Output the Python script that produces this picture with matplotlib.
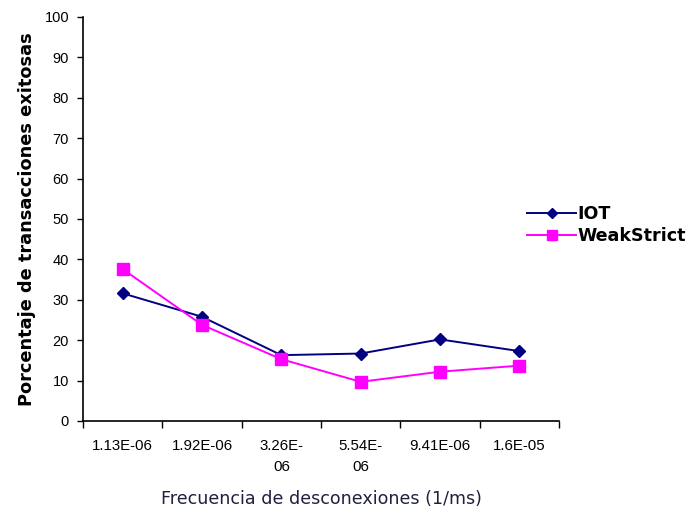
import matplotlib
matplotlib.use("Agg")
import matplotlib.pyplot as plt
import numpy as np

plt.rcParams['font.family'] = ['Liberation Sans', 'DejaVu Sans']

categories = ["1.13E-06", "1.92E-06", "3.26E-\n06", "5.54E-\n06", "9.41E-06", "1.6E-05"]
iot = [31.6, 25.8, 16.3, 16.7, 20.2, 17.3]
weak_strict = [37.6, 23.8, 15.3, 9.7, 12.2, 13.7]
y_ticks = list(range(0, 101, 10))

fig = plt.figure(figsize=(6.91, 5.13), dpi=100)
ax = fig.add_axes([83 / 691, (513 - 421) / 513, (559 - 83) / 691, (421 - 17) / 513])

x = np.arange(len(categories))
ax.plot(x, iot, color="#000080", marker="D", markersize=6.5, linewidth=1.4, label="IOT")
ax.plot(x, weak_strict, color="#FF00FF", marker="s", markersize=8.5, linewidth=1.4, label="WeakStrict")

ax.set_xlim(-0.5, len(categories) - 0.5)
ax.set_ylim(0, 100)
ax.set_yticks(y_ticks)
ax.tick_params(axis="y", labelsize=10.5, length=4, width=1, direction="out", pad=6)

ax.set_xticks(x)
ax.set_xticklabels(categories, fontsize=10.8, linespacing=1.6, va="top")
ax.tick_params(axis="x", which="major", length=0, pad=13)
ax.set_xticks(np.arange(-0.5, len(categories), 1.0), minor=True)
ax.tick_params(axis="x", which="minor", length=5, width=1, direction="out")

for side in ("top", "right"):
    ax.spines[side].set_visible(False)
for side in ("left", "bottom"):
    ax.spines[side].set_linewidth(1.2)

ax.set_ylabel("Porcentaje de transacciones exitosas", family="DejaVu Sans",
              fontsize=12.8, fontweight="bold", labelpad=6)
ax.set_xlabel("Frecuencia de desconexiones (1/ms)", family="DejaVu Sans",
              fontsize=12.6, labelpad=12, color="#202040")

leg = fig.legend(loc="center left", bbox_to_anchor=(520 / 691, 1 - 225 / 513), frameon=False,
                 prop={"family": "DejaVu Sans", "size": 12.6, "weight": "bold"},
                 handlelength=2.8, handletextpad=0.1, labelspacing=0.2, borderaxespad=0,
                 markerscale=0.8)

fig.savefig("out.png", dpi=100)
